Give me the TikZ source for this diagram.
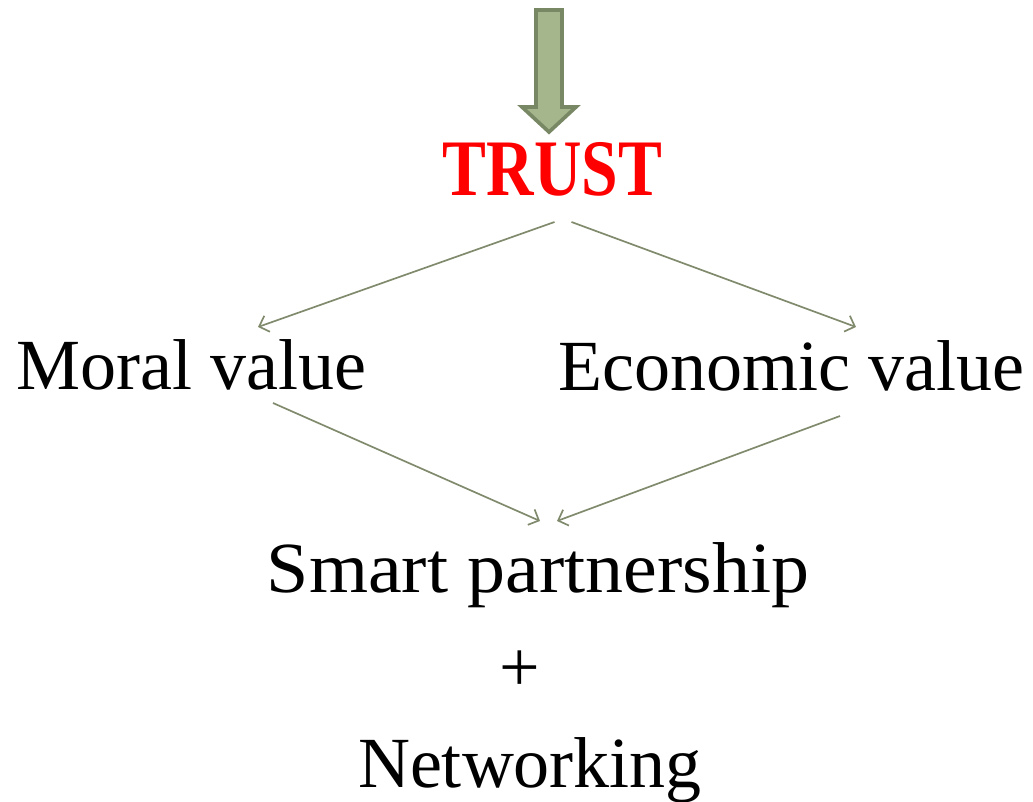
\documentclass[tikz,border=0pt]{standalone}
\usepackage{fontspec}
\setmainfont{Liberation Serif}
\usepackage{graphicx}
\usetikzlibrary{calc,arrows.meta}
\definecolor{arrowfill}{RGB}{166,182,140}
\definecolor{arrowline}{RGB}{120,136,100}
\definecolor{linkgray}{RGB}{128,138,108}
\tikzset{
	word/.style={font=\fontsize{51.2}{60}\selectfont, inner sep=0pt, anchor=base},
	link/.style={line width=1.2pt, color=linkgray, -{Straight Barb[length=6pt,width=12pt]}}
}

\begin{document}
\begin{tikzpicture}[x=0.025cm, y=-0.025cm]
		%%%%% START %%%%%
		
		\useasboundingbox (0, 0) rectangle (1033, 802);
		
		\draw[line width=2.6pt, color=arrowline, fill=arrowfill, line join=miter] (536, 10) -- (562, 10) -- (562, 107) -- (576, 107) -- (549, 132) -- (522, 107) -- (536, 107) -- cycle;
		
		\node[word, text=red, font=\bfseries\fontsize{57}{60}\selectfont] (trust) at (552.5, 195) {\scalebox{0.82}[1]{TRUST}};
		
		\node[word] (moral) at (191.5, 389) {Moral value};
		\node[word] (economic) at (791.5, 390) {Economic value};
		
		\node[word] (smart) at (538, 592) {\scalebox{1.055}[1]{Smart partnership}};
		\node[word] (plus) at (520, 691) {+};
		\node[word] (network) at (530, 787) {Networking};
		
		\draw[link] ($(trust.base)+(2, 27)$) -- ($(moral.base)+(66.5, -62)$);
		\draw[link] ($(trust.base)+(19, 27)$) -- ($(economic.base)+(64.5, -63)$);
		
		\draw[link] ($(moral.base)+(81.5, 14)$) -- ($(smart.base)+(2, -71)$);
		\draw[link] ($(economic.base)+(48.5, 26)$) -- ($(smart.base)+(19, -71)$);
		
		%%%%% END %%%%%
	\end{tikzpicture}
\end{document}
